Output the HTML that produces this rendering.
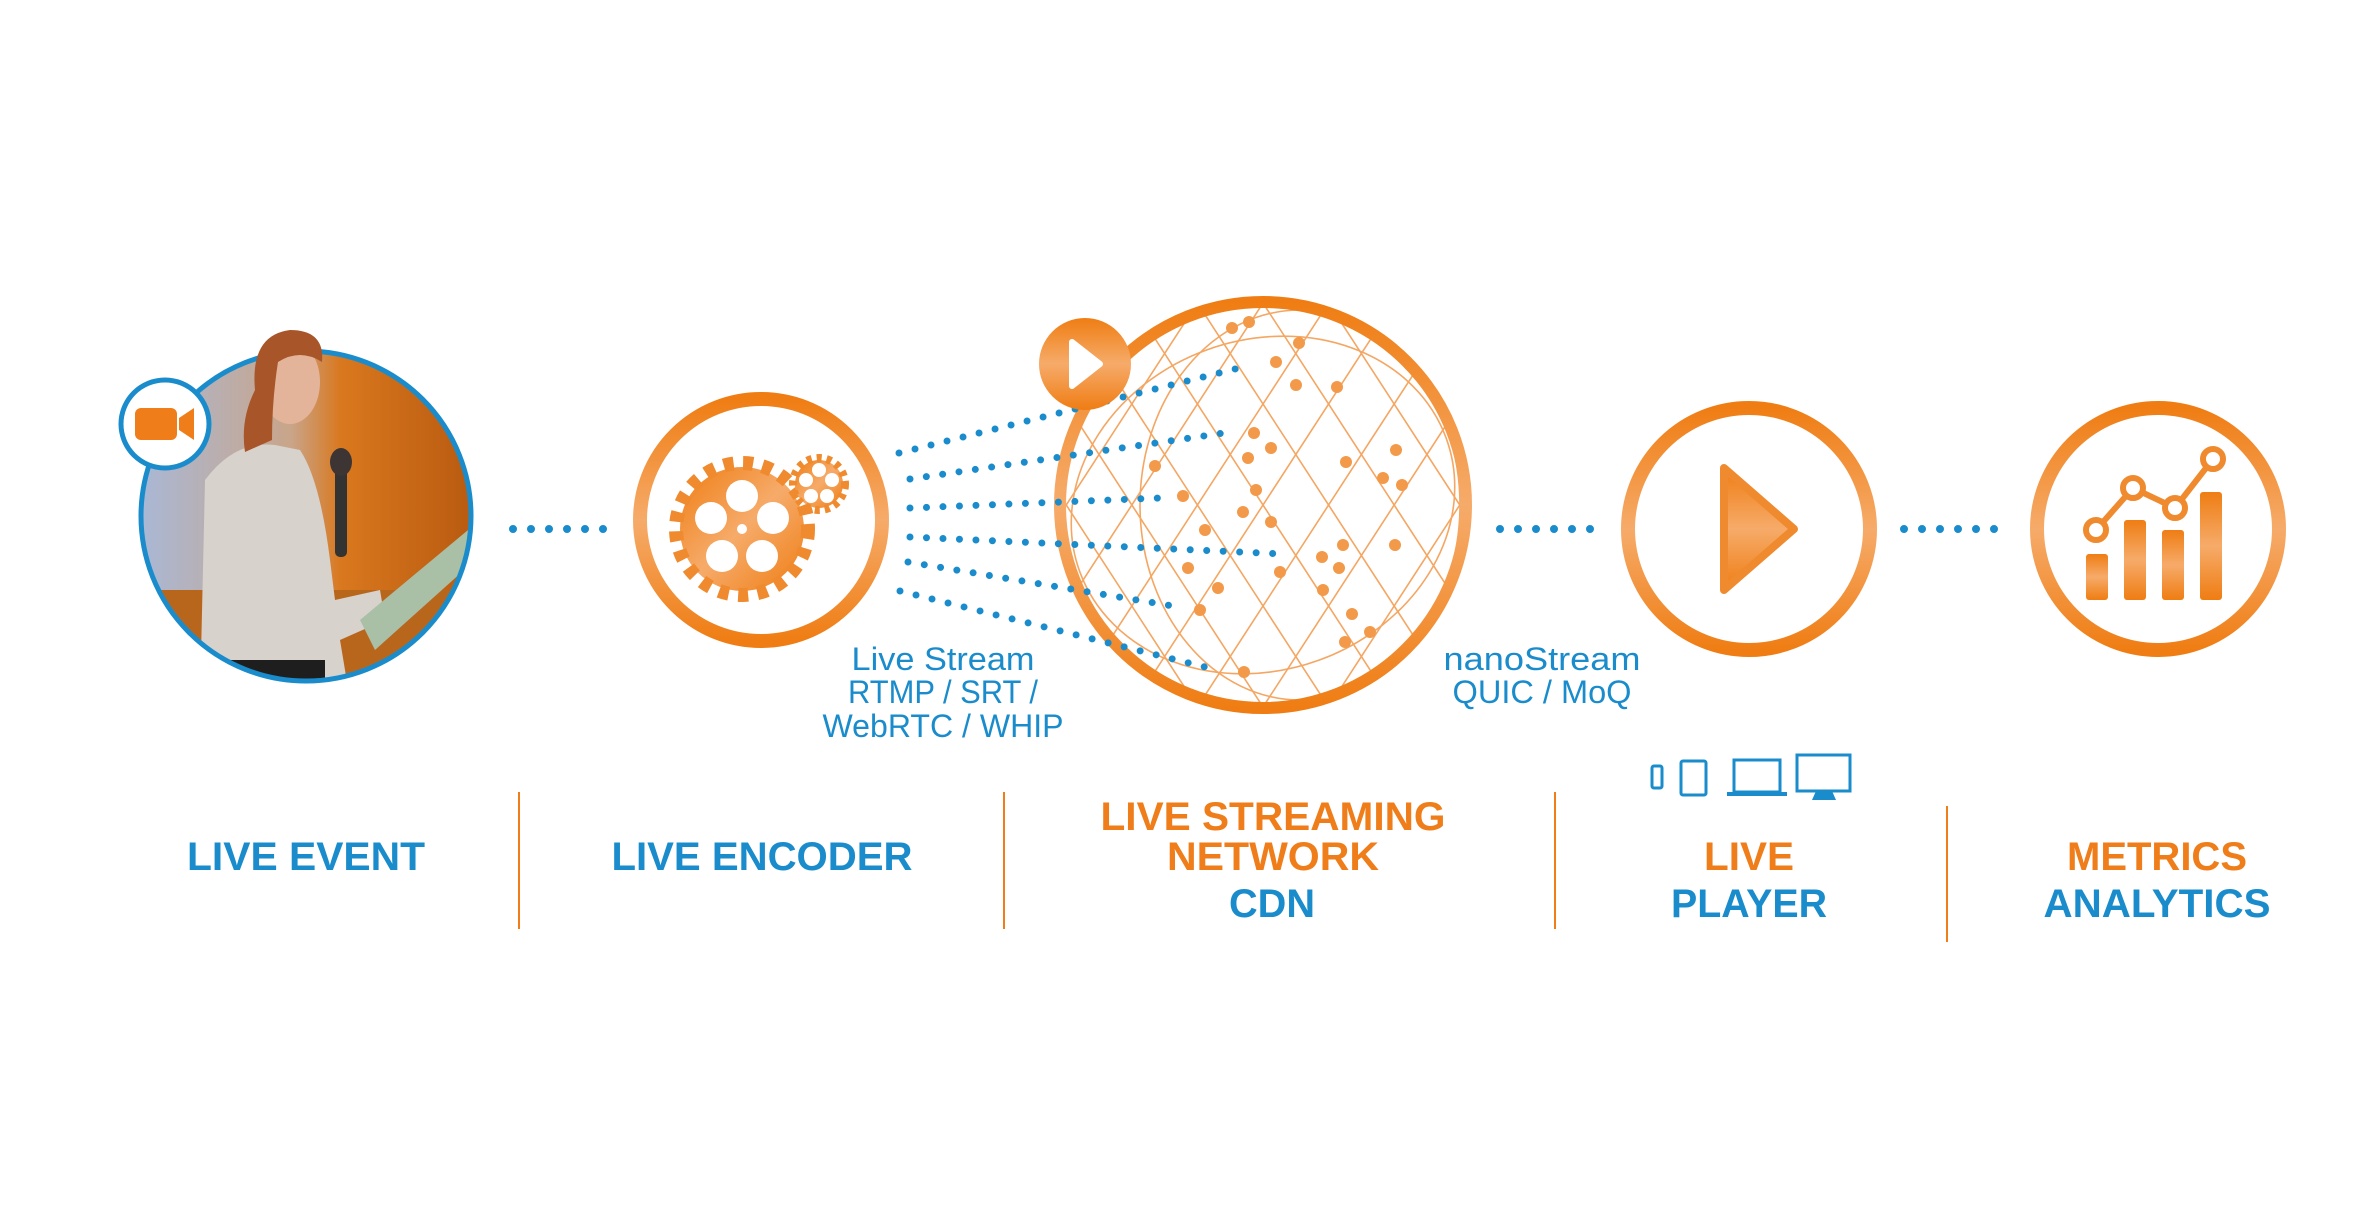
<!DOCTYPE html>
<html><head><meta charset="utf-8"><style>
html,body{margin:0;padding:0;background:#fff;}
svg{display:block;}
.big{font-family:"Liberation Sans",sans-serif;font-weight:bold;font-size:40px;}
.sm{font-family:"Liberation Sans",sans-serif;font-size:32px;fill:#1a8ccc;}
</style></head><body>
<svg width="2380" height="1211" viewBox="0 0 2380 1211" xmlns="http://www.w3.org/2000/svg">
<defs>
<linearGradient id="og" x1="0" y1="0" x2="0" y2="1">
<stop offset="0" stop-color="#ef7d13"/><stop offset="0.5" stop-color="#f6ab6a"/><stop offset="1" stop-color="#ef7d13"/>
</linearGradient>
<linearGradient id="og2" x1="0" y1="0" x2="1" y2="1">
<stop offset="0" stop-color="#ef7d13"/><stop offset="0.5" stop-color="#f6ab6a"/><stop offset="1" stop-color="#ef7d13"/>
</linearGradient>
<linearGradient id="bg" x1="0" y1="0" x2="1" y2="0">
<stop offset="0" stop-color="#a9b8d6"/><stop offset="0.45" stop-color="#c9a58a"/><stop offset="0.6" stop-color="#d9781e"/><stop offset="1" stop-color="#b85a10"/>
</linearGradient>
<clipPath id="pc"><circle cx="306" cy="516" r="164"/></clipPath>
<clipPath id="gc"><circle cx="1263" cy="505" r="200"/></clipPath>
</defs>

<!-- photo -->
<g clip-path="url(#pc)">
<rect x="140" y="350" width="335" height="335" fill="url(#bg)"/>
<rect x="140" y="590" width="335" height="100" fill="#b9661d"/>
<path d="M200 700 L205 480 Q235 440 275 445 L300 450 Q320 480 330 560 L335 600 L380 590 L385 620 L340 640 L350 700 Z" fill="#d8d2cc"/>
<rect x="215" y="660" width="110" height="40" fill="#1e1e1e"/>
<path d="M360 620 L480 520 L492 545 L375 650 Z" fill="#a9bfa6"/>
</g>
<circle cx="306" cy="516" r="165" fill="none" stroke="#1a8ccc" stroke-width="5"/>
<ellipse cx="290" cy="382" rx="30" ry="42" fill="#e3b49a"/>
<path d="M255 390 Q250 335 290 330 Q325 330 322 362 Q300 348 278 362 Q272 400 272 440 L245 452 Q240 420 255 390 Z" fill="#a8552a"/>
<rect x="335" y="462" width="12" height="95" rx="5" fill="#333"/>
<ellipse cx="341" cy="462" rx="11" ry="14" fill="#3d3434"/>
<circle cx="165" cy="424" r="44" fill="#fff" stroke="#1a8ccc" stroke-width="5"/>
<rect x="135" y="408" width="42" height="32" rx="6" fill="#ef7d1a"/>
<path d="M179 418 L194 408 L194 440 L179 430 Z" fill="#ef7d1a"/>

<g stroke="#1a8ccc" stroke-width="8" stroke-linecap="round" stroke-dasharray="0 18" fill="none">
<line x1="513" y1="529" x2="606" y2="529"/>
<line x1="1500" y1="529" x2="1592" y2="529"/>
<line x1="1904" y1="529" x2="1996" y2="529"/>
</g>

<!-- encoder -->
<circle cx="761" cy="520" r="121" fill="none" stroke="url(#og)" stroke-width="14"/>
<g fill="url(#og2)">
<circle cx="742" cy="529" r="62"/>
<circle cx="742" cy="529" r="66" fill="none" stroke="#f08a2e" stroke-width="14" stroke-dasharray="10 9.5"/>
<circle cx="819" cy="484" r="24"/>
<circle cx="819" cy="484" r="26" fill="none" stroke="#f08a2e" stroke-width="8" stroke-dasharray="5 5"/>
</g>
<g fill="#fff">
<circle cx="742" cy="496" r="16"/><circle cx="773" cy="518" r="16"/><circle cx="762" cy="556" r="16"/><circle cx="722" cy="556" r="16"/><circle cx="711" cy="518" r="16"/><circle cx="742" cy="529" r="5"/>
<circle cx="819" cy="470" r="7"/><circle cx="832" cy="480" r="7"/><circle cx="827" cy="496" r="7"/><circle cx="811" cy="496" r="7"/><circle cx="806" cy="480" r="7"/>
</g>

<!-- globe -->
<g clip-path="url(#gc)" stroke="#f4a662" stroke-width="1.6" fill="none">
<g transform="rotate(33 1263 505)">
<line x1="1043" y1="200" x2="1043" y2="810"/><line x1="1098" y1="200" x2="1098" y2="810"/><line x1="1153" y1="200" x2="1153" y2="810"/><line x1="1208" y1="200" x2="1208" y2="810"/><line x1="1263" y1="200" x2="1263" y2="810"/><line x1="1318" y1="200" x2="1318" y2="810"/><line x1="1373" y1="200" x2="1373" y2="810"/><line x1="1428" y1="200" x2="1428" y2="810"/><line x1="1483" y1="200" x2="1483" y2="810"/>
</g>
<g transform="rotate(-33 1263 505)">
<line x1="1043" y1="200" x2="1043" y2="810"/><line x1="1098" y1="200" x2="1098" y2="810"/><line x1="1153" y1="200" x2="1153" y2="810"/><line x1="1208" y1="200" x2="1208" y2="810"/><line x1="1263" y1="200" x2="1263" y2="810"/><line x1="1318" y1="200" x2="1318" y2="810"/><line x1="1373" y1="200" x2="1373" y2="810"/><line x1="1428" y1="200" x2="1428" y2="810"/><line x1="1483" y1="200" x2="1483" y2="810"/>
</g>
<ellipse cx="1263" cy="505" rx="195" ry="165" transform="rotate(-20 1263 505)"/>
<ellipse cx="1300" cy="505" rx="160" ry="195"/>
</g>
<circle cx="1263" cy="505" r="203" fill="none" stroke="url(#og)" stroke-width="12"/>
<g fill="#f29a4a">
<circle cx="1232" cy="328" r="6"/><circle cx="1249" cy="322" r="6"/><circle cx="1299" cy="343" r="6"/><circle cx="1276" cy="362" r="6"/><circle cx="1296" cy="385" r="6"/><circle cx="1337" cy="387" r="6"/>
<circle cx="1254" cy="433" r="6"/><circle cx="1271" cy="448" r="6"/><circle cx="1248" cy="458" r="6"/><circle cx="1155" cy="466" r="6"/><circle cx="1346" cy="462" r="6"/><circle cx="1396" cy="450" r="6"/><circle cx="1383" cy="478" r="6"/><circle cx="1402" cy="485" r="6"/>
<circle cx="1183" cy="496" r="6"/><circle cx="1256" cy="490" r="6"/><circle cx="1243" cy="512" r="6"/><circle cx="1271" cy="522" r="6"/><circle cx="1205" cy="530" r="6"/><circle cx="1343" cy="545" r="6"/><circle cx="1395" cy="545" r="6"/>
<circle cx="1322" cy="557" r="6"/><circle cx="1188" cy="568" r="6"/><circle cx="1280" cy="572" r="6"/><circle cx="1339" cy="568" r="6"/><circle cx="1218" cy="588" r="6"/><circle cx="1323" cy="590" r="6"/><circle cx="1200" cy="610" r="6"/>
<circle cx="1352" cy="614" r="6"/><circle cx="1370" cy="632" r="6"/><circle cx="1345" cy="642" r="6"/><circle cx="1244" cy="672" r="6"/>
</g>
<g stroke="#1a8ccc" stroke-width="7" stroke-linecap="round" stroke-dasharray="0 16.5" fill="none">
<line x1="899" y1="453" x2="1243" y2="367"/>
<line x1="910" y1="479" x2="1224" y2="433"/>
<line x1="910" y1="508" x2="1161" y2="498"/>
<line x1="910" y1="537" x2="1284" y2="554"/>
<line x1="908" y1="562" x2="1173" y2="606"/>
<line x1="900" y1="591" x2="1213" y2="669"/>
</g>
<circle cx="1085" cy="364" r="46" fill="url(#og)"/>
<path d="M1072 342 L1100 364 L1072 386 Z" fill="#fff" stroke="#fff" stroke-width="6" stroke-linejoin="round"/>

<!-- player -->
<circle cx="1749" cy="529" r="121" fill="none" stroke="url(#og)" stroke-width="14"/>
<path d="M1724 468 L1794 529 L1724 590 Z" fill="url(#og)" stroke="#f08a2e" stroke-width="8" stroke-linejoin="round"/>

<!-- metrics -->
<circle cx="2158" cy="529" r="121" fill="none" stroke="url(#og)" stroke-width="14"/>
<g fill="url(#og)">
<rect x="2086" y="554" width="22" height="46" rx="3"/>
<rect x="2124" y="520" width="22" height="80" rx="3"/>
<rect x="2162" y="530" width="22" height="70" rx="3"/>
<rect x="2200" y="492" width="22" height="108" rx="3"/>
</g>
<polyline points="2096,530 2133,488 2175,508 2213,459" fill="none" stroke="#f08a2e" stroke-width="6"/>
<g fill="#fff" stroke="#f08a2e" stroke-width="6">
<circle cx="2096" cy="530" r="10"/><circle cx="2133" cy="488" r="10"/><circle cx="2175" cy="508" r="10"/><circle cx="2213" cy="459" r="10"/>
</g>

<!-- devices -->
<g fill="none" stroke="#1a8ccc" stroke-width="3">
<rect x="1652" y="766" width="10" height="22" rx="2"/>
<rect x="1681" y="761" width="25" height="34" rx="2"/>
<rect x="1734" y="760" width="46" height="32"/>
<rect x="1797" y="755" width="53" height="36"/>
</g>
<rect x="1727" y="792" width="60" height="4" fill="#1a8ccc"/>
<path d="M1816 791 L1832 791 L1836 800 L1812 800 Z" fill="#1a8ccc"/>

<text class="sm" x="943" y="670" text-anchor="middle" textLength="183" lengthAdjust="spacingAndGlyphs">Live Stream</text>
<text class="sm" x="943" y="703" text-anchor="middle" textLength="190" lengthAdjust="spacingAndGlyphs">RTMP / SRT /</text>
<text class="sm" x="943" y="737" text-anchor="middle" textLength="241" lengthAdjust="spacingAndGlyphs">WebRTC / WHIP</text>
<text class="sm" x="1542" y="670" text-anchor="middle" textLength="197" lengthAdjust="spacingAndGlyphs">nanoStream</text>
<text class="sm" x="1542" y="703" text-anchor="middle" textLength="179" lengthAdjust="spacingAndGlyphs">QUIC / MoQ</text>

<g stroke="#ef7d1a" stroke-width="2">
<line x1="519" y1="792" x2="519" y2="929"/>
<line x1="1004" y1="792" x2="1004" y2="929"/>
<line x1="1555" y1="792" x2="1555" y2="929"/>
<line x1="1947" y1="806" x2="1947" y2="942"/>
</g>

<text class="big" fill="#1a8ccc" x="306" y="870" text-anchor="middle" textLength="238" lengthAdjust="spacingAndGlyphs">LIVE EVENT</text>
<text class="big" fill="#1a8ccc" x="762" y="870" text-anchor="middle" textLength="301" lengthAdjust="spacingAndGlyphs">LIVE ENCODER</text>
<text class="big" fill="#ef7d1a" x="1273" y="830" text-anchor="middle" textLength="345" lengthAdjust="spacingAndGlyphs">LIVE STREAMING</text>
<text class="big" fill="#ef7d1a" x="1273" y="870" text-anchor="middle" textLength="212" lengthAdjust="spacingAndGlyphs">NETWORK</text>
<text class="big" fill="#1a8ccc" x="1272" y="917" text-anchor="middle" textLength="86" lengthAdjust="spacingAndGlyphs">CDN</text>
<text class="big" fill="#ef7d1a" x="1749" y="870" text-anchor="middle" textLength="90" lengthAdjust="spacingAndGlyphs">LIVE</text>
<text class="big" fill="#1a8ccc" x="1749" y="917" text-anchor="middle" textLength="156" lengthAdjust="spacingAndGlyphs">PLAYER</text>
<text class="big" fill="#ef7d1a" x="2157" y="870" text-anchor="middle" textLength="180" lengthAdjust="spacingAndGlyphs">METRICS</text>
<text class="big" fill="#1a8ccc" x="2157" y="917" text-anchor="middle" textLength="227" lengthAdjust="spacingAndGlyphs">ANALYTICS</text>
</svg>
</body></html>
